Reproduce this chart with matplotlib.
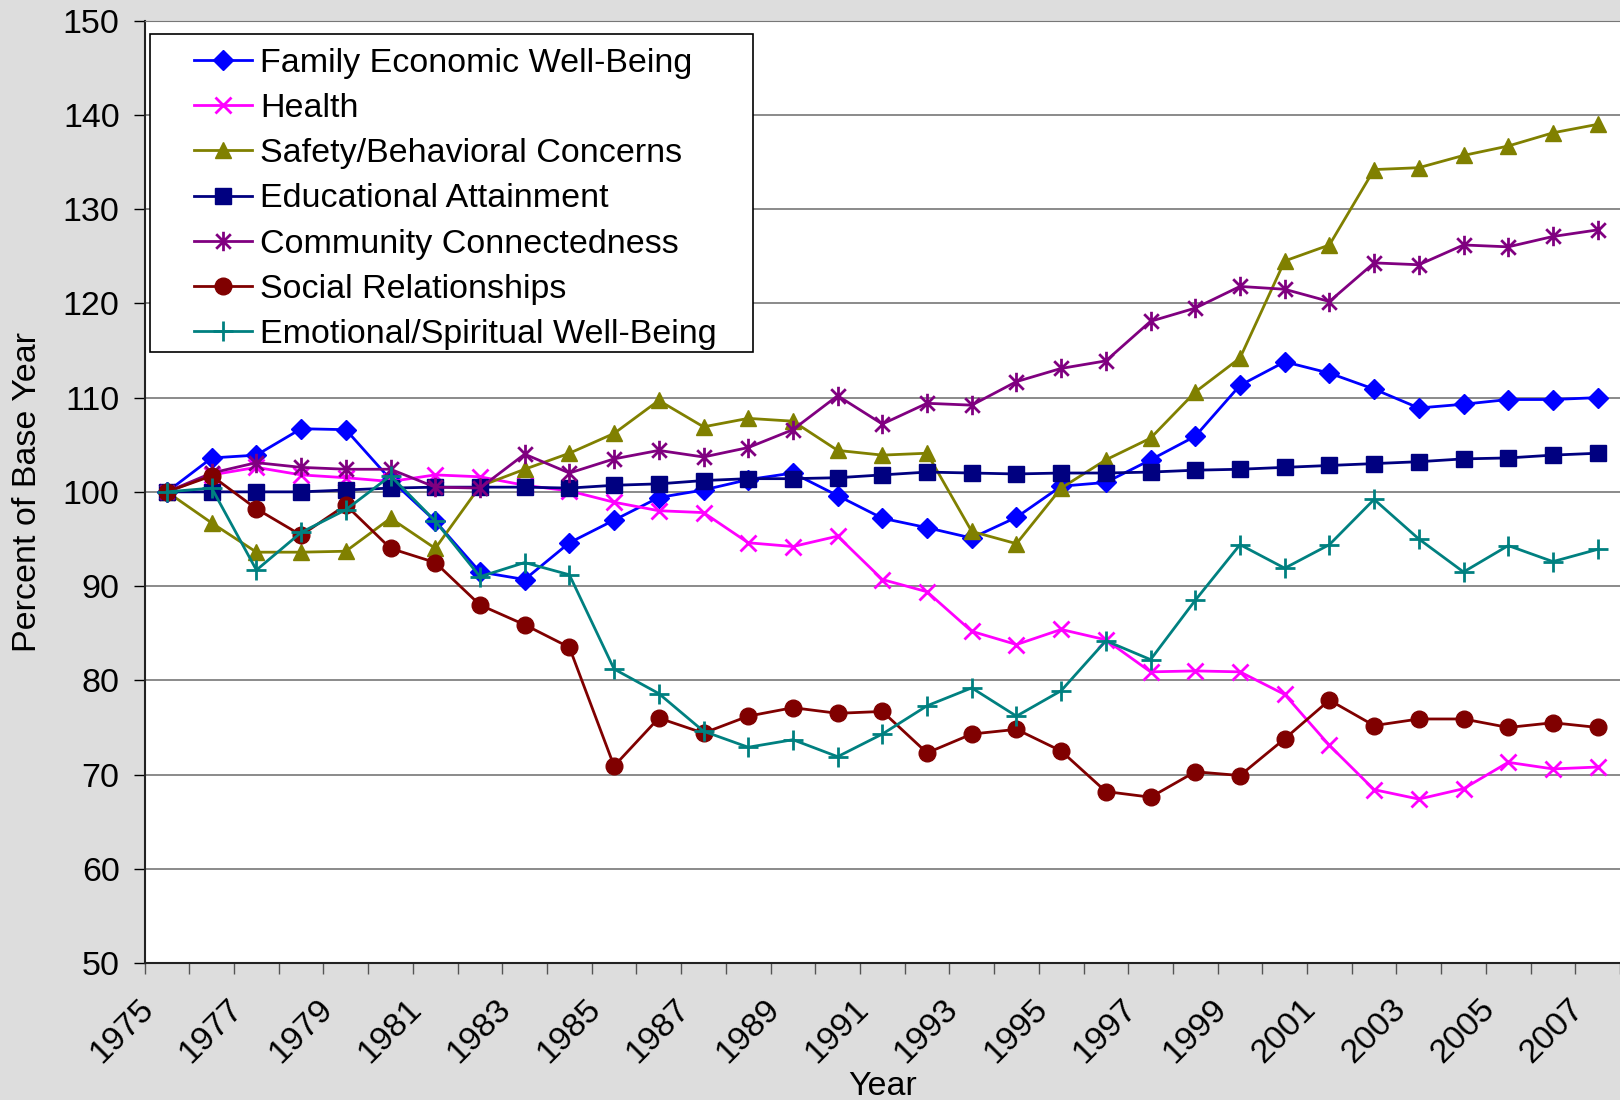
import matplotlib
matplotlib.use("Agg")
import matplotlib.pyplot as plt
import matplotlib.transforms as mtransforms
from matplotlib.patches import Rectangle
from matplotlib.path import Path
import numpy as np

years = list(range(1975, 2008))

family = [100, 103.6, 103.9, 106.7, 106.6, 101.3, 96.9, 91.5, 90.7, 94.6, 97.0,
          99.4, 100.2, 101.3, 102.0, 99.6, 97.2, 96.2, 95.1, 97.3, 100.6,
          101.0, 103.4, 105.9, 111.3, 113.8, 112.6, 110.9, 108.9, 109.3, 109.8, 109.8, 110.0]
health = [100, 101.8, 102.6, 101.8, 101.5, 101.1, 101.8, 101.6, 100.7, 100.1, 98.9,
          98.0, 97.8, 94.6, 94.2, 95.3, 90.7, 89.4, 85.2, 83.8, 85.4,
          84.3, 80.9, 81.0, 80.9, 78.5, 73.1, 68.4, 67.4, 68.5, 71.3, 70.6, 70.8]
safety = [100, 96.7, 93.6, 93.6, 93.7, 97.2, 94.0, 100.6, 102.4, 104.1, 106.2,
          109.7, 106.9, 107.8, 107.5, 104.4, 103.9, 104.1, 95.8, 94.5, 100.4,
          103.4, 105.7, 110.6, 114.2, 124.5, 126.2, 134.2, 134.4, 135.7, 136.7, 138.1, 139.0]
education = [100, 100.0, 100.0, 100.0, 100.2, 100.4, 100.5, 100.5, 100.5, 100.4, 100.7,
             100.85, 101.2, 101.4, 101.4, 101.5, 101.8, 102.1, 102.0, 101.9, 102.0,
             102.0, 102.1, 102.3, 102.4, 102.6, 102.8, 103.0, 103.2, 103.5, 103.6, 103.9, 104.1]
community = [100, 102.0, 103.1, 102.6, 102.4, 102.4, 100.5, 100.4, 104.0, 102.0, 103.5,
             104.4, 103.7, 104.7, 106.6, 110.2, 107.2, 109.4, 109.2, 111.7, 113.1,
             113.9, 118.1, 119.5, 121.8, 121.5, 120.2, 124.3, 124.1, 126.2, 126.0, 127.1, 127.8]
social = [100, 101.7, 98.2, 95.4, 98.6, 94.0, 92.5, 88.0, 85.9, 83.5, 70.9,
          76.0, 74.4, 76.2, 77.1, 76.5, 76.7, 72.3, 74.3, 74.8, 72.5,
          68.2, 67.6, 70.3, 69.9, 73.8, 77.9, 75.2, 75.9, 75.9, 75.0, 75.5, 75.0]
emotional = [100, 100.4, 91.7, 95.7, 98.1, 101.7, 96.9, 91.0, 92.5, 91.2, 81.2,
             78.6, 74.6, 72.9, 73.7, 71.9, 74.3, 77.3, 79.2, 76.2, 78.9,
             84.2, 82.2, 88.5, 94.4, 91.9, 94.4, 99.2, 95.0, 91.5, 94.3, 92.6, 93.9]

names = ["Family Economic Well-Being", "Health", "Safety/Behavioral Concerns",
         "Educational Attainment", "Community Connectedness", "Social Relationships",
         "Emotional/Spiritual Well-Being"]

# Excel style asterisk: vertical bar plus an x
star = Path([(0, -1), (0, 1), (-0.75, -0.75), (0.75, 0.75), (-0.75, 0.75), (0.75, -0.75)],
            [Path.MOVETO, Path.LINETO, Path.MOVETO, Path.LINETO, Path.MOVETO, Path.LINETO])

styles = [
    dict(color="#0000ff", marker="D", ms=10),
    dict(color="#ff00ff", marker="x", ms=12, mew=2),
    dict(color="#808000", marker="^", ms=12),
    dict(color="#000080", marker="s", ms=11),
    dict(color="#800080", marker=star, ms=14, mew=2),
    dict(color="#800000", marker="o", ms=12),
    dict(color="#008080", marker="+", ms=15, mew=2),
]

plt.rcParams['font.family'] = ['Liberation Sans', 'DejaVu Sans']
fs = 24.5

bg = "#dddddd"
fig = plt.figure(figsize=(16.2, 11), dpi=100, facecolor=bg)
ax = fig.add_axes([0.0893, 0.1245, 0.9107, 0.8567])
ax.set_facecolor("white")

x = np.arange(len(years)) + 0.5
series = [family, health, safety, education, community, social, emotional]
for vals, name, st in zip(series, names, styles):
    ax.plot(x, vals, lw=2, label=name, **st)

ax.set_xlim(0, len(years))
ax.set_ylim(50, 150)
ax.set_yticks(np.arange(50, 151, 10))
ax.yaxis.grid(True, color="#777777", lw=1.2)
ax.set_axisbelow(True)

ax.set_xticks(np.arange(0, len(years) + 1))
ax.set_xticklabels([str(1975 + i) if i % 2 == 0 and i < len(years) else "" for i in range(len(years) + 1)],
                   rotation=45, ha="right", va="top")
ax.tick_params(axis="x", length=8, width=1, pad=14, labelsize=fs, color="#555555")
ax.tick_params(axis="y", length=8, width=1, pad=10, labelsize=fs)
off = mtransforms.ScaledTranslation(15 / 100, 0, fig.dpi_scale_trans)
for lab in ax.get_xticklabels():
    lab.set_transform(lab.get_transform() + off)

for s in ["left", "bottom"]:
    ax.spines[s].set_linewidth(1.5)
    ax.spines[s].set_color("#222222")
ax.spines["top"].set_color("#777777")
ax.spines["right"].set_visible(False)

ax.set_ylabel("Percent of Base Year", fontsize=fs, labelpad=14)
ax.set_xlabel("Year", fontsize=fs, labelpad=1)

# legend box
ax.add_patch(Rectangle((0.0037, 0.6484), 0.4087, 0.3375, transform=ax.transAxes,
                       fc="white", ec="black", lw=1.2, zorder=5))
leg = ax.legend(loc="upper left", bbox_to_anchor=(0.0335, 0.9715), frameon=False,
                fontsize=fs, handlelength=1.7, handletextpad=0.24, labelspacing=0.42,
                borderpad=0, borderaxespad=0)
leg.set_zorder(6)

fig.savefig("out.png", dpi=100, facecolor=bg)
